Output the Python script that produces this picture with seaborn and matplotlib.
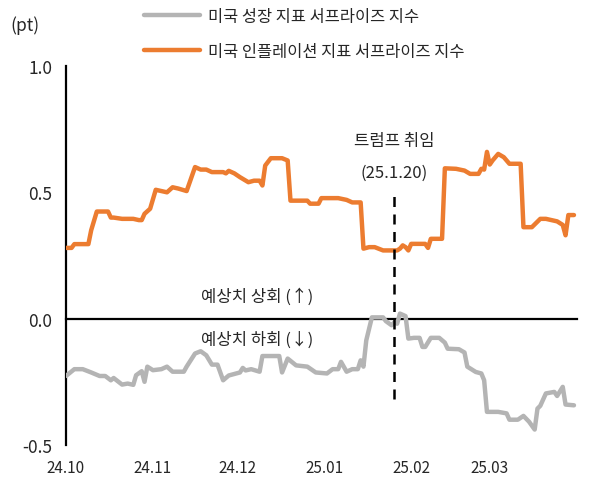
import matplotlib
matplotlib.use("Agg")
import matplotlib.pyplot as plt
import pandas as pd
import seaborn as sns

# 데이터
growth_dates = ["2024-10-01", "2024-10-04", "2024-10-07", "2024-10-10", "2024-10-13", "2024-10-15",
                "2024-10-17", "2024-10-18", "2024-10-21", "2024-10-23", "2024-10-25", "2024-10-26",
                "2024-10-28", "2024-10-29", "2024-10-30", "2024-11-01", "2024-11-04", "2024-11-06",
                "2024-11-08", "2024-11-12", "2024-11-13", "2024-11-16", "2024-11-18", "2024-11-20",
                "2024-11-22", "2024-11-24", "2024-11-26", "2024-11-28", "2024-12-02", "2024-12-03",
                "2024-12-04", "2024-12-06", "2024-12-09", "2024-12-10", "2024-12-13", "2024-12-16",
                "2024-12-17", "2024-12-19", "2024-12-22", "2024-12-26", "2024-12-29", "2025-01-02",
                "2025-01-04", "2025-01-06", "2025-01-07", "2025-01-09", "2025-01-11", "2025-01-13",
                "2025-01-14", "2025-01-15", "2025-01-16", "2025-01-18", "2025-01-22", "2025-01-23",
                "2025-01-25", "2025-01-26", "2025-01-27", "2025-01-28", "2025-01-30", "2025-01-31",
                "2025-02-02", "2025-02-04", "2025-02-05", "2025-02-06", "2025-02-08", "2025-02-11",
                "2025-02-13", "2025-02-14", "2025-02-18", "2025-02-20", "2025-02-21", "2025-02-24",
                "2025-02-26", "2025-02-27", "2025-02-28", "2025-03-04", "2025-03-07", "2025-03-08",
                "2025-03-11", "2025-03-13", "2025-03-15", "2025-03-17", "2025-03-18", "2025-03-19",
                "2025-03-21", "2025-03-24", "2025-03-25", "2025-03-27", "2025-03-28", "2025-03-31"]
growth_vals = [-0.227, -0.20, -0.20, -0.213, -0.227, -0.227,
               -0.244, -0.235, -0.261, -0.257, -0.262, -0.224,
               -0.208, -0.25, -0.19, -0.204, -0.20, -0.19,
               -0.21, -0.21, -0.19, -0.138, -0.129, -0.145,
               -0.182, -0.182, -0.244, -0.225, -0.213, -0.195,
               -0.205, -0.20, -0.21, -0.148, -0.148, -0.148,
               -0.213, -0.158, -0.185, -0.19, -0.213, -0.217,
               -0.20, -0.20, -0.171, -0.21, -0.20, -0.20,
               -0.165, -0.19, -0.086, 0.005, 0.005, -0.01,
               -0.026, -0.015, -0.02, 0.02, 0.01, -0.079,
               -0.076, -0.076, -0.112, -0.112, -0.076, -0.076,
               -0.095, -0.119, -0.121, -0.134, -0.19, -0.211,
               -0.217, -0.244, -0.369, -0.369, -0.375, -0.40,
               -0.40, -0.385, -0.408, -0.439, -0.356, -0.345,
               -0.296, -0.29, -0.306, -0.27, -0.34, -0.343]

infl_dates = ["2024-10-01", "2024-10-02", "2024-10-03", "2024-10-04", "2024-10-09", "2024-10-10",
              "2024-10-12", "2024-10-16", "2024-10-17", "2024-10-18", "2024-10-21", "2024-10-25",
              "2024-10-27", "2024-10-28", "2024-10-29", "2024-10-30", "2024-10-31", "2024-11-02",
              "2024-11-06", "2024-11-08", "2024-11-10", "2024-11-13", "2024-11-16", "2024-11-18",
              "2024-11-20", "2024-11-22", "2024-11-26", "2024-11-27", "2024-11-28", "2024-11-30",
              "2024-12-02", "2024-12-05", "2024-12-07", "2024-12-09", "2024-12-10", "2024-12-11",
              "2024-12-13", "2024-12-17", "2024-12-19", "2024-12-20", "2024-12-26", "2024-12-27",
              "2024-12-30", "2024-12-31", "2025-01-06", "2025-01-09", "2025-01-11", "2025-01-14",
              "2025-01-15", "2025-01-17", "2025-01-19", "2025-01-22", "2025-01-27", "2025-01-28",
              "2025-01-29", "2025-01-30", "2025-01-31", "2025-02-01", "2025-02-06", "2025-02-07",
              "2025-02-08", "2025-02-12", "2025-02-13", "2025-02-17", "2025-02-20", "2025-02-22",
              "2025-02-25", "2025-02-26", "2025-02-27", "2025-02-28", "2025-03-01", "2025-03-02",
              "2025-03-04", "2025-03-06", "2025-03-08", "2025-03-12", "2025-03-13", "2025-03-16",
              "2025-03-19", "2025-03-21", "2025-03-25", "2025-03-27", "2025-03-28", "2025-03-29",
              "2025-03-31"]
infl_vals = [0.28, 0.28, 0.28, 0.295, 0.295, 0.35,
             0.424, 0.424, 0.40, 0.40, 0.395, 0.395,
             0.39, 0.39, 0.415, 0.425, 0.435, 0.51,
             0.50, 0.52, 0.515, 0.505, 0.60, 0.59,
             0.59, 0.58, 0.58, 0.575, 0.585, 0.575,
             0.56, 0.54, 0.546, 0.546, 0.527, 0.606,
             0.635, 0.635, 0.626, 0.467, 0.467, 0.455,
             0.455, 0.477, 0.477, 0.47, 0.46, 0.46,
             0.277, 0.283, 0.283, 0.27, 0.27, 0.277,
             0.29, 0.283, 0.27, 0.296, 0.296, 0.28,
             0.316, 0.316, 0.595, 0.593, 0.586, 0.573,
             0.573, 0.593, 0.59, 0.66, 0.61, 0.626,
             0.652, 0.639, 0.613, 0.613, 0.362, 0.362,
             0.395, 0.395, 0.385, 0.371, 0.33, 0.41,
             0.41]

series_names = ["미국 성장 지표 서프라이즈 지수", "미국 인플레이션 지표 서프라이즈 지수"]
series_colors = ["#b4b4b4", "#ec7c30"]
x_ticks = ["2024-10-01", "2024-11-01", "2024-12-01", "2025-01-01", "2025-02-01", "2025-03-01", "2025-04-01"]
y_ticks = [-0.5, 0.0, 0.5, 1.0]
event_date = "2025-01-26"

df = pd.concat([
    pd.DataFrame({"date": pd.to_datetime(growth_dates), "value": growth_vals, "series": series_names[0]}),
    pd.DataFrame({"date": pd.to_datetime(infl_dates), "value": infl_vals, "series": series_names[1]}),
])

sns.set_theme(style="white")
plt.rcParams["font.family"] = ["Noto Sans CJK KR", "DejaVu Sans"]

fig = plt.figure(figsize=(5.94, 4.89), dpi=100)
ax = fig.add_axes([0.111, 0.088, 0.86, 0.775])

sns.lineplot(data=df, x="date", y="value", hue="series", hue_order=series_names,
             palette=series_colors, linewidth=3.2, ax=ax, zorder=5, legend=False)

ax.set_ylim(-0.5, 1.0)
ax.set_xlim(pd.Timestamp(x_ticks[0]), pd.Timestamp(x_ticks[-1]))
ax.set_yticks(y_ticks)
ax.set_yticklabels([f"{v:.1f}" for v in y_ticks], fontsize=12.5)
ax.set_xticks(pd.to_datetime(x_ticks))
ax.set_xticklabels([pd.Timestamp(d).strftime("%y.%m") for d in x_ticks[:-1]] + [""], fontsize=12.5)
ax.set_xlabel("")
ax.set_ylabel("")

for s in ["top", "right"]:
    ax.spines[s].set_visible(False)
ax.spines["bottom"].set_position(("data", 0))
for s in ["left", "bottom"]:
    ax.spines[s].set_color("black")
    ax.spines[s].set_linewidth(1.6)
ax.tick_params(axis="both", direction="in", length=5, width=1.6, color="black")
ax.tick_params(axis="x", pad=101)
ax.tick_params(axis="y", pad=10)

# 트럼프 취임 표시
ax.vlines(pd.Timestamp(event_date), -0.32, 0.51, colors="black", linestyles=(0, (4, 3)),
          linewidth=1.8, zorder=6)
ax.text(pd.Timestamp(event_date), 0.705, "트럼프 취임", ha="center", va="center", fontsize=12)
ax.text(pd.Timestamp(event_date), 0.58, "(25.1.20)", ha="center", va="center", fontsize=12)

ax.text(pd.Timestamp("2024-12-08"), 0.09, "예상치 상회 (↑)", ha="center", va="center", fontsize=12)
ax.text(pd.Timestamp("2024-12-08"), -0.08, "예상치 하회 (↓)", ha="center", va="center", fontsize=12)

fig.text(0.017, 0.948, "(pt)", ha="left", va="center", fontsize=12.5)

handles = [plt.Line2D([], [], color=c, linewidth=3.2) for c in series_colors]
fig.legend(handles, series_names, loc="upper left", bbox_to_anchor=(0.232, 0.995),
           frameon=False, fontsize=11.8, handlelength=3.4, handletextpad=0.5,
           labelspacing=1.1, borderaxespad=0)

fig.savefig("out.png", dpi=100)
